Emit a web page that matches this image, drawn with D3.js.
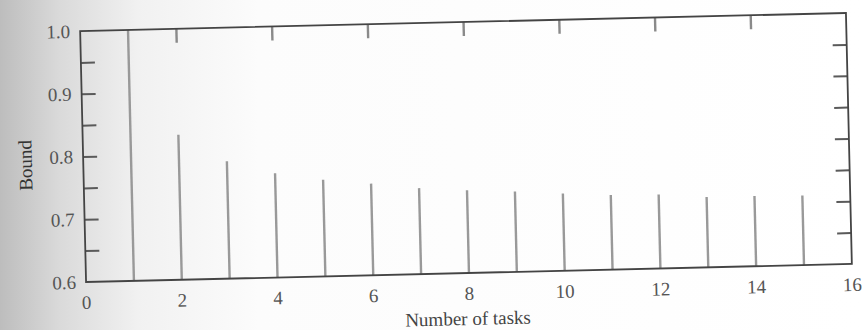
<!DOCTYPE html>
<html>
<head>
<meta charset="utf-8">
<script src="https://cdn.jsdelivr.net/npm/d3@7"></script>
<style>
  html, body { margin: 0; padding: 0; background: #fff; }
  svg { display: block; }
</style>
</head>
<body>
<svg id="chart" width="862" height="330"></svg>
<script>
// ---- data ----
const tasks = [1, 2, 3, 4, 5, 6, 7, 8, 9, 10, 11, 12, 13, 14, 15];
const bound = [1.0, 0.831, 0.787, 0.766, 0.754, 0.746, 0.737, 0.732, 0.728, 0.723, 0.719, 0.718, 0.712, 0.712, 0.711];
const xTickLabels = [0, 2, 4, 6, 8, 10, 12, 14, 16];
const xInnerTicks = [2, 4, 6, 8, 10, 12, 14];
const yTickLabels = [0.6, 0.7, 0.8, 0.9, 1.0];
const yInnerTicks = [0.65, 0.7, 0.75, 0.8, 0.85, 0.9, 0.95];
const xLabel = "Number of tasks";
const yLabel = "Bound";

// ---- layout ----
const W = 862, H = 330;
const mLeft = 83, mTop = 22, pw = 766, ph = 251;
const cx = mLeft + pw / 2, cy = mTop + ph / 2;
const tickLen = 14;
const font = "'Liberation Serif', 'Times New Roman', serif";

const svg = d3.select("#chart");

// page shading (photographed page)
const defs = svg.append("defs");
const grad = defs.append("linearGradient").attr("id", "page").attr("x1", 0).attr("x2", 1).attr("y1", 0).attr("y2", 0);
grad.append("stop").attr("offset", 0).attr("stop-color", "#bdbdbd");
grad.append("stop").attr("offset", 0.07).attr("stop-color", "#dadada");
grad.append("stop").attr("offset", 0.16).attr("stop-color", "#f1f1f1");
grad.append("stop").attr("offset", 0.3).attr("stop-color", "#fcfcfc");
grad.append("stop").attr("offset", 1).attr("stop-color", "#ffffff");
svg.append("rect").attr("width", W).attr("height", H).attr("fill", "url(#page)");

const g = svg.append("g").attr("transform", `rotate(-1.35,${cx},${cy})`);
const plot = g.append("g").attr("transform", `translate(${mLeft},${mTop})`);

const x = d3.scaleLinear().domain([0, 16]).range([0, pw]);
const y = d3.scaleLinear().domain([0.6, 1.0]).range([ph, 0]);

// bars (stems)
plot.append("g").selectAll("line").data(tasks).join("line")
  .attr("x1", d => x(d)).attr("x2", d => x(d))
  .attr("y1", y(0.6))
  .attr("y2", (d, i) => y(bound[i]))
  .attr("stroke", "#999").attr("stroke-width", 2.4);

// inward ticks via axes
function styleAxis(sel) {
  sel.select(".domain").remove();
  sel.selectAll(".tick line").attr("stroke", "#5a5a5a").attr("stroke-width", 2);
  sel.selectAll(".tick text").remove();
}
plot.append("g").call(d3.axisTop(x).tickValues(xInnerTicks).tickSize(-tickLen).tickFormat(""))
  .call(styleAxis).selectAll(".tick line").attr("stroke", "#8a8a8a").attr("stroke-width", 2.4);
plot.append("g").call(d3.axisLeft(y).tickValues(yInnerTicks).tickSize(-tickLen).tickFormat("")).call(styleAxis);
plot.append("g").attr("transform", `translate(${pw},0)`)
  .call(d3.axisRight(y).tickValues(yInnerTicks).tickSize(-tickLen).tickFormat("")).call(styleAxis);

// frame
plot.append("rect").attr("x", 0).attr("y", 0).attr("width", pw).attr("height", ph)
  .attr("fill", "none").attr("stroke", "#444").attr("stroke-width", 1.8);

// tick labels
plot.append("g").selectAll("text").data(xTickLabels).join("text")
  .attr("x", d => x(d)).attr("y", ph + 27)
  .attr("text-anchor", "middle")
  .attr("font-family", font).attr("font-size", 19).attr("fill", "#555")
  .text(d => d);
plot.append("g").selectAll("text").data(yTickLabels).join("text")
  .attr("x", -10).attr("y", d => y(d)).attr("dy", "0.35em")
  .attr("text-anchor", "end")
  .attr("font-family", font).attr("font-size", 19).attr("fill", "#555")
  .text(d => d3.format(".1f")(d));

// axis titles
g.append("text").attr("x", cx - 2).attr("y", 325)
  .attr("text-anchor", "middle")
  .attr("font-family", font).attr("font-size", 19).attr("fill", "#444")
  .text(xLabel);
g.append("text").attr("transform", `translate(25,155) rotate(-90)`)
  .attr("dy", "0.35em").attr("text-anchor", "middle")
  .attr("font-family", font).attr("font-size", 19).attr("fill", "#333")
  .text(yLabel);
</script>
</body>
</html>
